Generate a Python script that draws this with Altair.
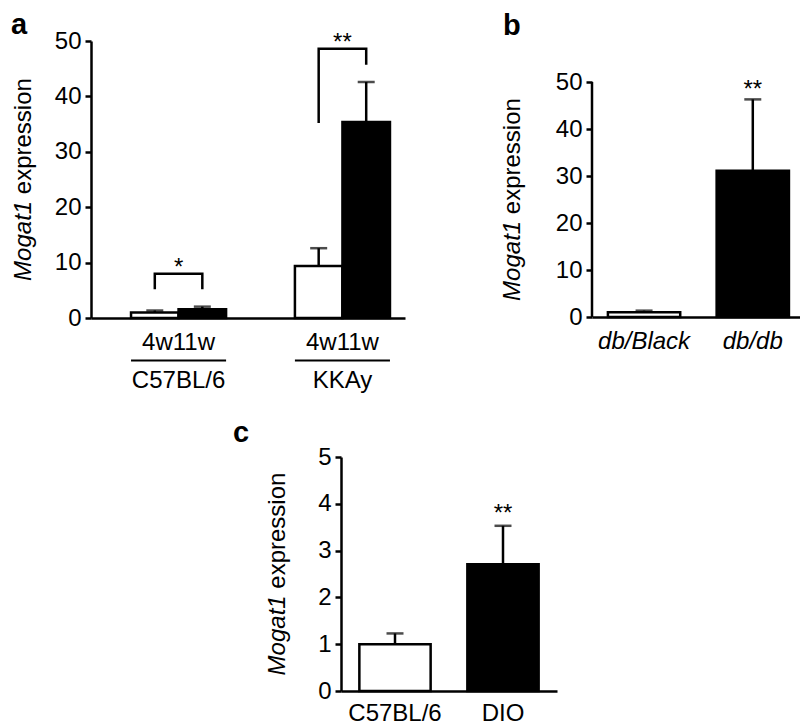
import altair as alt
import pandas as pd

FONT = "Liberation Sans"
FS = 24
LW = 2.5

# ---------------- data ----------------
# panel a
a_group_order = ["C57BL/6", "KKAy"]
a_age_order = ["4w", "11w"]
a_groups = ["C57BL/6", "C57BL/6", "KKAy", "KKAy"]
a_ages = ["4w", "11w", "4w", "11w"]
a_means = [1.0, 1.6, 9.4, 35.4]
a_errs = [0.35, 0.45, 3.2, 7.2]
a_br_id = ["c57", "c57", "c57", "c57", "kkay", "kkay", "kkay", "kkay"]
a_br_group = ["C57BL/6"] * 4 + ["KKAy"] * 4
a_br_age = ["4w", "4w", "11w", "11w", "4w", "4w", "11w", "11w"]
a_br_y = [5.2, 8.0, 8.0, 5.2, 35.2, 48.6, 48.6, 45.7]
a_br_ord = [0, 1, 2, 3, 0, 1, 2, 3]
a_star_group = ["C57BL/6", "KKAy"]
a_star_text = ["*", "**"]
a_star_y = [9.1, 49.7]

# panel b
b_cats = ["db/Black", "db/db"]
b_means = [1.0, 31.1]
b_errs = [0.35, 15.2]
b_star_cat = ["db/db"]
b_star_text = ["**"]
b_star_y = [48.3]

# panel c
c_cats = ["C57BL/6", "DIO"]
c_means = [1.0, 2.71]
c_errs = [0.23, 0.82]
c_star_cat = ["DIO"]
c_star_text = ["**"]
c_star_y = [3.78]

ticks_ab = [0, 10, 20, 30, 40, 50]
ticks_c = [0, 1, 2, 3, 4, 5]
title_italic = "Mogat1"
title_rest = "expression"
fills = ["white", "black"]


def y_title(x_off, yc):
    t1 = alt.Chart(pd.DataFrame({"t": [title_italic]})).mark_text(
        angle=270, align="right", baseline="middle", fontSize=FS, font=FONT,
        fontStyle="italic", color="black", dx=-0.889 * FS
    ).encode(x=alt.value(x_off), y=alt.value(yc), text="t:N")
    t2 = alt.Chart(pd.DataFrame({"t": [title_rest]})).mark_text(
        angle=270, align="left", baseline="middle", fontSize=FS, font=FONT,
        color="black", dx=-0.611 * FS
    ).encode(x=alt.value(x_off), y=alt.value(yc), text="t:N")
    return [t1, t2]


def panel_label(txt, x_off, y_off):
    return alt.Chart(pd.DataFrame({"t": [txt]})).mark_text(
        align="left", baseline="alphabetic", fontSize=29, fontWeight="bold",
        font=FONT, color="black"
    ).encode(x=alt.value(x_off), y=alt.value(y_off), text="t:N")


def yenc(field, domain, ticks, domain_line=True):
    return alt.Y(f"{field}:Q", scale=alt.Scale(domain=domain, nice=False),
                 axis=alt.Axis(values=ticks, title=None, domain=domain_line))


# ---------------- panel a ----------------
WA, HA = 314, 277
da = pd.DataFrame({"group": a_groups, "age": a_ages, "mean": a_means, "err": a_errs})
da["upper"] = da["mean"] + da["err"]
dbr = pd.DataFrame({"id": a_br_id, "group": a_br_group, "age": a_br_age, "y": a_br_y, "ord": a_br_ord})
dst = pd.DataFrame({"group": a_star_group, "t": a_star_text, "y": a_star_y})
dgl = pd.DataFrame({"group": a_group_order})

xa_scale = alt.Scale(domain=a_group_order, paddingInner=0.42, paddingOuter=0.168, align=0.727)
xa_axis = alt.Axis(title=None, ticks=False, tickSize=0, labelPadding=12, labelAngle=0,
                   labelLineHeight=38,
                   labelExpr="['" + "".join(a_age_order) + "', datum.label]")


def xa():
    return alt.X("group:N", sort=a_group_order, scale=xa_scale, axis=xa_axis)


def xoa():
    return alt.XOffset("age:N", sort=a_age_order,
                       scale=alt.Scale(domain=a_age_order, paddingInner=0, paddingOuter=0))


fill_a = alt.Fill("age:N", scale=alt.Scale(domain=a_age_order, range=fills), legend=None)

bars_a = alt.Chart(da).mark_bar(stroke="black", strokeWidth=LW).encode(
    x=xa(), xOffset=xoa(), y=yenc("mean", [0, 50], ticks_ab), fill=fill_a)
err_a = alt.Chart(da).mark_rule(color="black", strokeWidth=LW).encode(
    x=xa(), xOffset=xoa(), y=yenc("mean", [0, 50], ticks_ab), y2="upper:Q")
cap_a = alt.Chart(da).mark_tick(color="black", thickness=LW, size=17, orient="horizontal").encode(
    x=xa(), xOffset=xoa(), y=yenc("upper", [0, 50], ticks_ab))
br_a = alt.Chart(dbr).mark_line(color="black", strokeWidth=LW).encode(
    x=xa(), xOffset=xoa(), y=yenc("y", [0, 50], ticks_ab), order="ord:Q", detail="id:N")
st_a = alt.Chart(dst).mark_text(fontSize=FS, font=FONT, color="black", baseline="middle").encode(
    x=xa(), y=yenc("y", [0, 50], ticks_ab), text="t:N")
ul_a = alt.Chart(dgl).mark_rect(color="black").encode(
    x=xa(), y=alt.value(HA + 41.5), y2=alt.value(HA + 43.5))

panel_a = alt.layer(bars_a, err_a, cap_a, br_a, st_a, ul_a, *y_title(-67, HA / 2),
                    panel_label("a", -80, -7)).properties(width=WA, height=HA)

# ---------------- panel b ----------------
# plot top is shared with panel a; the 0-50 axis occupies the lower 235 px
WB, HB = 208, 276
B_TOP = 50 * HB / 235.0
dbb = pd.DataFrame({"cat": b_cats, "mean": b_means, "err": b_errs})
dbb["upper"] = dbb["mean"] + dbb["err"]
dsb = pd.DataFrame({"cat": b_star_cat, "t": b_star_text, "y": b_star_y})
xb_scale = alt.Scale(domain=b_cats, paddingInner=0.335, paddingOuter=0.124, align=0.59)
xb_axis = alt.Axis(title=None, ticks=False, tickSize=0, labelPadding=12, labelAngle=0,
                   labelFontStyle="italic")


def xb():
    return alt.X("cat:N", sort=b_cats, scale=xb_scale, axis=xb_axis)


def yb(field):
    return yenc(field, [0, B_TOP], ticks_ab, domain_line=False)


fill_b = alt.Fill("cat:N", scale=alt.Scale(domain=b_cats, range=fills), legend=None)
bars_b = alt.Chart(dbb).mark_bar(stroke="black", strokeWidth=LW).encode(
    x=xb(), y=yb("mean"), fill=fill_b)
err_b = alt.Chart(dbb).mark_rule(color="black", strokeWidth=LW).encode(
    x=xb(), y=yb("mean"), y2="upper:Q")
cap_b = alt.Chart(dbb).mark_tick(color="black", thickness=LW, size=17, orient="horizontal").encode(
    x=xb(), y=yb("upper"))
st_b = alt.Chart(dsb).mark_text(fontSize=FS, font=FONT, color="black", baseline="middle").encode(
    x=xb(), y=yb("y"), text="t:N")
axis_b = alt.Chart(pd.DataFrame({"lo": [ticks_ab[0]], "hi": [ticks_ab[-1]]})).mark_rule(
    color="black", strokeWidth=LW).encode(x=alt.value(0), y=yb("lo"), y2="hi:Q")
panel_b = alt.layer(bars_b, err_b, cap_b, st_b, axis_b, *y_title(-79, HB - 235 / 2),
                    panel_label("b", -89, -6)).properties(width=WB, height=HB)

# ---------------- panel c ----------------
WC, HC = 216, 234
dcc = pd.DataFrame({"cat": c_cats, "mean": c_means, "err": c_errs})
dcc["upper"] = dcc["mean"] + dcc["err"]
dsc = pd.DataFrame({"cat": c_star_cat, "t": c_star_text, "y": c_star_y})
xc_scale = alt.Scale(domain=c_cats, paddingInner=0.34, paddingOuter=0.17)
xc_axis = alt.Axis(title=None, ticks=False, tickSize=0, labelPadding=10, labelAngle=0)


def xc():
    return alt.X("cat:N", sort=c_cats, scale=xc_scale, axis=xc_axis)


fill_c = alt.Fill("cat:N", scale=alt.Scale(domain=c_cats, range=fills), legend=None)
bars_c = alt.Chart(dcc).mark_bar(stroke="black", strokeWidth=LW).encode(
    x=xc(), y=yenc("mean", [0, 5], ticks_c), fill=fill_c)
err_c = alt.Chart(dcc).mark_rule(color="black", strokeWidth=LW).encode(
    x=xc(), y=yenc("mean", [0, 5], ticks_c), y2="upper:Q")
cap_c = alt.Chart(dcc).mark_tick(color="black", thickness=LW, size=17, orient="horizontal").encode(
    x=xc(), y=yenc("upper", [0, 5], ticks_c))
st_c = alt.Chart(dsc).mark_text(fontSize=FS, font=FONT, color="black", baseline="middle").encode(
    x=xc(), y=yenc("y", [0, 5], ticks_c), text="t:N")
panel_c = alt.layer(bars_c, err_c, cap_c, st_c, *y_title(-63, HC / 2),
                    panel_label("c", -108, -15)).properties(width=WC, height=HC)

# empty spacer view that shifts panel c to the right
spacer = alt.Chart(pd.DataFrame({"v": [0]})).mark_point(opacity=0, size=1).encode(
    x=alt.X("v:Q", axis=None), y=alt.Y("v:Q", axis=None)).properties(width=142, height=10)

row1 = alt.hconcat(panel_a, panel_b, spacing=96)
row2 = alt.hconcat(spacer, panel_c, spacing=0)

chart = alt.vconcat(row1, row2, spacing=27).properties(
    padding={"left": 3, "top": 3, "right": 0, "bottom": 0}
).configure_view(
    stroke=None
).configure_axis(
    domainColor="black", domainWidth=LW, tickColor="black", tickWidth=LW, tickSize=6,
    labelColor="black", labelFontSize=FS, labelFont=FONT, labelPadding=4, grid=False
)

chart.save("out.html", embed_options={"renderer": "svg", "actions": False})
